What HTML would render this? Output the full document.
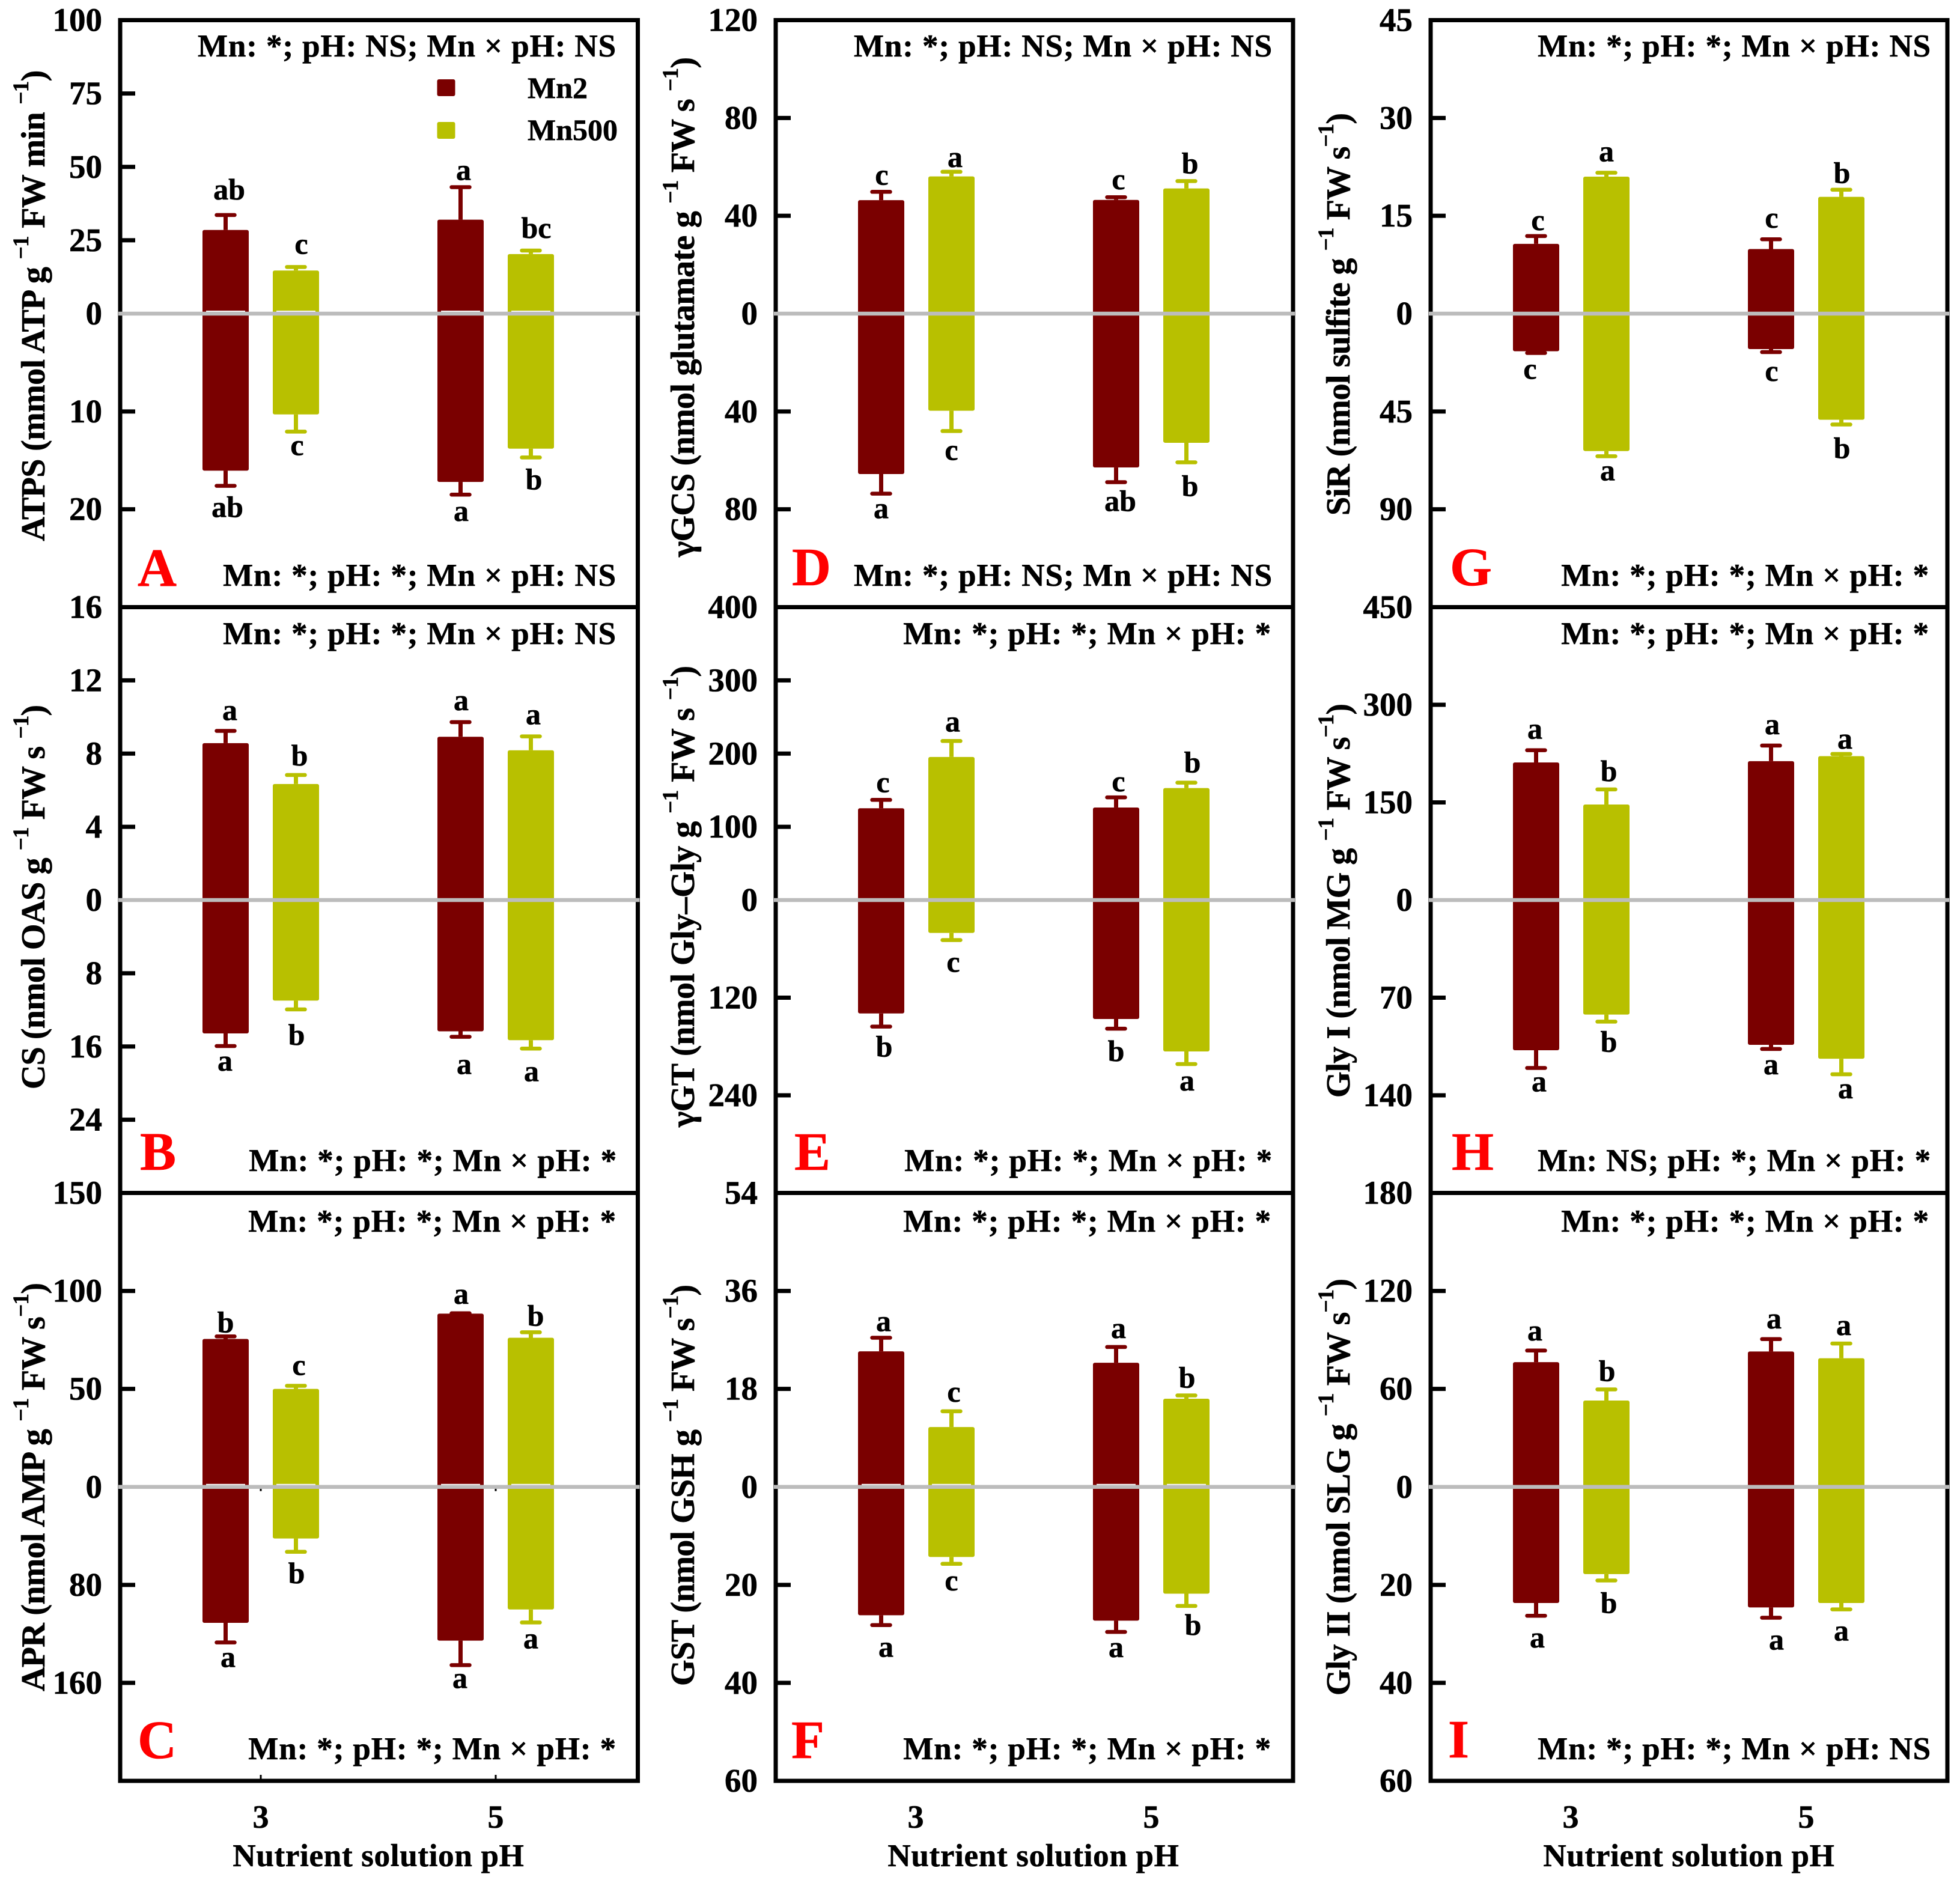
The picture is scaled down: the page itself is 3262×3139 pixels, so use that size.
<!DOCTYPE html>
<html lang="en">
<head>
<meta charset="utf-8">
<title>Enzyme activities by Mn and pH</title>
<style>
html,body{margin:0;padding:0;background:#fff;}
svg{display:block;}
text{font-family:"Liberation Serif",serif;font-weight:bold;fill:#000;stroke:#000;stroke-width:0.6px;}
.ann{font-size:53px;letter-spacing:0.9px;text-anchor:end;}
.tick{font-size:55px;text-anchor:end;}
.sig{font-size:50px;text-anchor:middle;}
.ytitle{font-size:56px;}
.sup{font-size:37px;}
.xtitle{font-size:53px;letter-spacing:0.7px;text-anchor:middle;}
.xlab{font-size:54px;text-anchor:middle;}
.leg{font-size:50px;}
.plet{font-size:90px;fill:#ff0000;stroke:#ff0000;}
.frame{fill:none;stroke:#000;stroke-width:7;}
</style>
</head>
<body>
<svg xmlns="http://www.w3.org/2000/svg" width="3262" height="3139" viewBox="0 0 3262 3139">
<rect width="3262" height="3139" fill="#fff"/>
<g id="marks"></g>

<g>
<rect class="frame" x="200" y="33.5" width="861.5" height="977"/>
<rect class="frame" x="200" y="1010.5" width="861.5" height="975"/>
<rect class="frame" x="200" y="1985.5" width="861.5" height="978.5"/>
<rect class="frame" x="1291" y="33.5" width="861" height="977"/>
<rect class="frame" x="1291" y="1010.5" width="861" height="975"/>
<rect class="frame" x="1291" y="1985.5" width="861" height="978.5"/>
<rect class="frame" x="2381" y="33.5" width="860" height="977"/>
<rect class="frame" x="2381" y="1010.5" width="860" height="975"/>
<rect class="frame" x="2381" y="1985.5" width="860" height="978.5"/>
</g>
<g id="overlay"></g>

<g>
<text class="ytitle" transform="translate(74,900.7) rotate(-90)" textLength="784" lengthAdjust="spacing">ATPS (mmol ATP g <tspan class="sup" dy="-27">−1</tspan><tspan dy="27"> FW min </tspan><tspan class="sup" dy="-27">−1</tspan><tspan dy="27">)</tspan></text>
<text class="ytitle" transform="translate(74,1813) rotate(-90)" textLength="640" lengthAdjust="spacing">CS (nmol OAS g <tspan class="sup" dy="-27">−1</tspan><tspan dy="27"> FW s </tspan><tspan class="sup" dy="-27">−1</tspan><tspan dy="27">)</tspan></text>
<text class="ytitle" transform="translate(74,2815) rotate(-90)" textLength="680" lengthAdjust="spacing">APR (nmol AMP g <tspan class="sup" dy="-27">−1</tspan><tspan dy="27"> FW s</tspan><tspan class="sup" dy="-27">−1</tspan><tspan dy="27">)</tspan></text>
<text class="ytitle" transform="translate(1155,927) rotate(-90)" textLength="832" lengthAdjust="spacing">γGCS (nmol glutamate g <tspan class="sup" dy="-27">−1</tspan><tspan dy="27"> FW s </tspan><tspan class="sup" dy="-27">−1</tspan><tspan dy="27">)</tspan></text>
<text class="ytitle" transform="translate(1155,1876) rotate(-90)" textLength="768" lengthAdjust="spacing">γGT (nmol Gly–Gly g <tspan class="sup" dy="-27">−1</tspan><tspan dy="27"> FW s </tspan><tspan class="sup" dy="-27">−1</tspan><tspan dy="27">)</tspan></text>
<text class="ytitle" transform="translate(1155,2806) rotate(-90)" textLength="668" lengthAdjust="spacing">GST (nmol GSH g <tspan class="sup" dy="-27">−1</tspan><tspan dy="27"> FW s</tspan><tspan class="sup" dy="-27">−1</tspan><tspan dy="27">)</tspan></text>
<text class="ytitle" transform="translate(2246,858) rotate(-90)" textLength="670" lengthAdjust="spacing">SiR (nmol sulfite g <tspan class="sup" dy="-27">−1</tspan><tspan dy="27"> FW s</tspan><tspan class="sup" dy="-27">−1</tspan><tspan dy="27">)</tspan></text>
<text class="ytitle" transform="translate(2246,1827) rotate(-90)" textLength="656" lengthAdjust="spacing">Gly I (nmol MG g <tspan class="sup" dy="-27">−1</tspan><tspan dy="27"> FW s</tspan><tspan class="sup" dy="-27">−1</tspan><tspan dy="27">)</tspan></text>
<text class="ytitle" transform="translate(2246,2822) rotate(-90)" textLength="694" lengthAdjust="spacing">Gly II (nmol SLG g <tspan class="sup" dy="-27">−1</tspan><tspan dy="27"> FW s</tspan><tspan class="sup" dy="-27">−1</tspan><tspan dy="27">)</tspan></text>
</g>

<g>
<text class="ann" x="1026" y="94">Mn: *; pH: NS; Mn × pH: NS</text>
<text class="ann" x="1026" y="975">Mn: *; pH: *; Mn × pH: NS</text>
<text class="ann" x="1026" y="1072">Mn: *; pH: *; Mn × pH: NS</text>
<text class="ann" x="1027" y="1949">Mn: *; pH: *; Mn × pH: *</text>
<text class="ann" x="1026" y="2050">Mn: *; pH: *; Mn × pH: *</text>
<text class="ann" x="1026" y="2928">Mn: *; pH: *; Mn × pH: *</text>
<text class="ann" x="2118" y="94">Mn: *; pH: NS; Mn × pH: NS</text>
<text class="ann" x="2118" y="975">Mn: *; pH: NS; Mn × pH: NS</text>
<text class="ann" x="2116" y="1072">Mn: *; pH: *; Mn × pH: *</text>
<text class="ann" x="2118" y="1949">Mn: *; pH: *; Mn × pH: *</text>
<text class="ann" x="2116" y="2050">Mn: *; pH: *; Mn × pH: *</text>
<text class="ann" x="2116" y="2928">Mn: *; pH: *; Mn × pH: *</text>
<text class="ann" x="3214" y="94">Mn: *; pH: *; Mn × pH: NS</text>
<text class="ann" x="3211" y="975">Mn: *; pH: *; Mn × pH: *</text>
<text class="ann" x="3211" y="1072">Mn: *; pH: *; Mn × pH: *</text>
<text class="ann" x="3214" y="1949">Mn: NS; pH: *; Mn × pH: *</text>
<text class="ann" x="3211" y="2050">Mn: *; pH: *; Mn × pH: *</text>
<text class="ann" x="3214" y="2928">Mn: *; pH: *; Mn × pH: NS</text>
</g>

<g>
<text class="plet" x="229" y="975">A</text>
<text class="plet" x="233" y="1947">B</text>
<text class="plet" x="229" y="2926">C</text>
<text class="plet" x="1318" y="974">D</text>
<text class="plet" x="1322" y="1947">E</text>
<text class="plet" x="1317" y="2926">F</text>
<text class="plet" x="2413" y="974">G</text>
<text class="plet" x="2416" y="1947">H</text>
<text class="plet" x="2410" y="2925">I</text>
</g>

<g>
<rect x="727.5" y="132" width="30" height="28" rx="3" fill="#7a0000"/>
<text class="leg" x="878" y="163">Mn2</text>
<rect x="727.5" y="203" width="30" height="28" rx="3" fill="#b8c000"/>
<text class="leg" x="878" y="233">Mn500</text>
</g>

<g>
<text class="xlab" x="434" y="3042">3</text>
<text class="xlab" x="825" y="3042">5</text>
<text class="xlab" x="1524" y="3042">3</text>
<text class="xlab" x="1916" y="3042">5</text>
<text class="xlab" x="2614" y="3042">3</text>
<text class="xlab" x="3006" y="3042">5</text>
<text class="xtitle" x="630" y="3106">Nutrient solution pH</text>
<text class="xtitle" x="1720" y="3106">Nutrient solution pH</text>
<text class="xtitle" x="2811" y="3106">Nutrient solution pH</text>
</g>
</svg>

<script>
// Bar order in every series: pH3-Mn2, pH3-Mn500, pH5-Mn2, pH5-Mn500
const categories = [3, 5];
const treatments = ['Mn2', 'Mn500'];

// A: ATPS
const atpsUpTicks = [25, 50, 75, 100];
const atpsLowTicks = [10, 20];
const atpsUp = [28.5, 14.7, 32, 20.3];
const atpsUpErr = [33.6, 15.9, 43.1, 21.5];
const atpsLow = [16.05, 10.3, 17.2, 13.8];
const atpsLowErr = [17.6, 12.06, 18.5, 14.7];
const atpsUpSig = ['ab', 'c', 'a', 'bc'];
const atpsLowSig = ['ab', 'c', 'a', 'b'];

// B: CS
const csUpTicks = [4, 8, 12, 16];
const csLowTicks = [8, 16, 24];
const csUp = [8.57, 6.34, 8.92, 8.18];
const csUpErr = [9.24, 6.83, 9.72, 8.94];
const csLow = [14.57, 10.99, 14.34, 15.31];
const csLowErr = [15.95, 11.95, 14.94, 16.23];
const csUpSig = ['a', 'b', 'a', 'a'];
const csLowSig = ['a', 'b', 'a', 'a'];

// C: APR
const aprUpTicks = [50, 100, 150];
const aprLowTicks = [80, 160];
const aprUp = [75.5, 50, 88.4, 76.1];
const aprUpErr = [76.8, 51.6, 88.6, 78.9];
const aprLow = [111, 42.1, 125.5, 100.1];
const aprLowErr = [127, 53, 145.5, 110.7];
const aprUpSig = ['b', 'c', 'a', 'b'];
const aprLowSig = ['a', 'b', 'a', 'a'];

// D: gamma-GCS
const gcsUpTicks = [40, 80, 120];
const gcsLowTicks = [40, 80];
const gcsUp = [46.4, 56.1, 46.5, 51.2];
const gcsUpErr = [49.8, 58, 47.6, 54.2];
const gcsLow = [65.6, 39.7, 62.9, 52.8];
const gcsLowErr = [73.6, 48, 68.9, 60.8];
const gcsUpSig = ['c', 'a', 'c', 'b'];
const gcsLowSig = ['a', 'c', 'ab', 'b'];

// E: gamma-GT
const gtUpTicks = [100, 200, 300, 400];
const gtLowTicks = [120, 240];
const gtUp = [125.3, 195.4, 126.4, 152.9];
const gtUpErr = [136.8, 217.2, 140.2, 160.3];
const gtLow = [139.4, 40.4, 146.2, 186.1];
const gtLowErr = [155.5, 49.2, 158.1, 201.6];
const gtUpSig = ['c', 'a', 'c', 'b'];
const gtLowSig = ['b', 'c', 'b', 'a'];

// F: GST
const gstUpTicks = [18, 36, 54];
const gstLowTicks = [20, 40, 60];
const gstUp = [24.9, 11, 22.8, 16.2];
const gstUpErr = [27.4, 13.9, 25.7, 16.8];
const gstLow = [26.2, 14.3, 27.3, 21.8];
const gstLowErr = [28.2, 15.7, 29.6, 24.3];
const gstUpSig = ['a', 'c', 'a', 'b'];
const gstLowSig = ['a', 'c', 'a', 'b'];

// G: SiR
const sirUpTicks = [15, 30, 45];
const sirLowTicks = [45, 90];
const sirUp = [10.7, 21, 9.9, 17.9];
const sirUpErr = [11.9, 21.6, 11.4, 19];
const sirLow = [17.3, 63.2, 16.3, 48.8];
const sirLowErr = [18.1, 65.6, 17.7, 51];
const sirUpSig = ['c', 'a', 'c', 'b'];
const sirLowSig = ['c', 'a', 'c', 'b'];

// H: Gly I
const glyIUpTicks = [150, 300, 450];
const glyILowTicks = [70, 140];
const glyIUp = [211.4, 146.8, 213.4, 221.1];
const glyIUpErr = [230.2, 170, 237.3, 224.4];
const glyILow = [107.7, 82.1, 103.8, 113.8];
const glyILowErr = [120.4, 87.2, 106.8, 124.9];
const glyIUpSig = ['a', 'b', 'a', 'a'];
const glyILowSig = ['a', 'b', 'a', 'a'];

// I: Gly II
const glyIIUpTicks = [60, 120, 180];
const glyIILowTicks = [20, 40, 60];
const glyIIUp = [76.4, 52.9, 82.9, 78.8];
const glyIIUpErr = [83.5, 59.7, 90.5, 87.8];
const glyIILow = [23.7, 17.8, 24.6, 23.7];
const glyIILowErr = [26.3, 19.1, 26.7, 25];
const glyIIUpSig = ['a', 'b', 'a', 'a'];
const glyIILowSig = ['a', 'b', 'a', 'a'];

const panels = [
  {id:'a',left:200,top:33.5,bottom:1010.5,upMax:100,lowMax:30,upT:atpsUpTicks,lowT:atpsLowTicks,up:atpsUp,upE:atpsUpErr,low:atpsLow,lowE:atpsLowErr,upS:atpsUpSig,lowS:atpsLowSig,
   gapU:[26,22,12,21],dxU:[6,9,5,9],gapL:[52,39,44,53],dxL:[3,2,1,5],notch:true},
  {id:'b',left:200,top:1010.5,bottom:1985.5,upMax:16,lowMax:32,upT:csUpTicks,lowT:csLowTicks,up:csUp,upE:csUpErr,low:csLow,lowE:csLowErr,upS:csUpSig,lowS:csLowSig,
   gapU:[18,16,20,20],dxU:[7,6,1,4],gapL:[41,59,62,54],dxL:[-1,1,6,1]},
  {id:'c',left:200,top:1985.5,bottom:2964,upMax:150,lowMax:240,upT:aprUpTicks,lowT:aprLowTicks,up:aprUp,upE:aprUpErr,low:aprLow,lowE:aprLowErr,upS:aprUpSig,lowS:aprLowSig,
   gapU:[7,18,16,11],dxU:[0,5,1,8],gapL:[41,52,38,43],dxL:[4,1,-1,0],xMarks:true,notch:true},
  {id:'d',left:1291,top:33.5,bottom:1010.5,upMax:120,lowMax:120,upT:gcsUpTicks,lowT:gcsLowTicks,up:gcsUp,upE:gcsUpErr,low:gcsLow,lowE:gcsLowErr,upS:gcsUpSig,lowS:gcsLowSig,
   gapU:[12,8,13,13],dxU:[1,6,4,6],gapL:[41,48,48,56],dxL:[0,0,7,6]},
  {id:'e',left:1291,top:1010.5,bottom:1985.5,upMax:400,lowMax:360,upT:gtUpTicks,lowT:gtLowTicks,up:gtUp,upE:gtUpErr,low:gtLow,lowE:gtLowErr,upS:gtUpSig,lowS:gtLowSig,
   gapU:[13,16,10,17],dxU:[3,2,4,10],gapL:[50,53,54,44],dxL:[5,3,0,1]},
  {id:'f',left:1291,top:1985.5,bottom:2964,upMax:54,lowMax:60,upT:gstUpTicks,lowT:gstLowTicks,up:gstUp,upE:gstUpErr,low:gstLow,lowE:gstLowErr,upS:gstUpSig,lowS:gstLowSig,
   gapU:[11,16,15,13],dxU:[4,4,4,1],gapL:[53,44,42,48],dxL:[8,0,0,11],notch:true},
  {id:'g',left:2381,top:33.5,bottom:1010.5,upMax:45,lowMax:135,upT:sirUpTicks,lowT:sirLowTicks,up:sirUp,upE:sirUpErr,low:sirLow,lowE:sirLowErr,upS:sirUpSig,lowS:sirLowSig,
   gapU:[10,19,19,11],dxU:[3,0,1,1],gapL:[43,40,48,56],dxL:[-10,2,1,1]},
  {id:'h',left:2381,top:1010.5,bottom:1985.5,upMax:450,lowMax:210,upT:glyIUpTicks,lowT:glyILowTicks,up:glyIUp,upE:glyIUpErr,low:glyILow,lowE:glyILowErr,upS:glyIUpSig,lowS:glyILowSig,
   gapU:[19,14,19,9],dxU:[-2,4,2,6],gapL:[39,50,42,40],dxL:[5,4,0,7]},
  {id:'i',left:2381,top:1985.5,bottom:2964,upMax:180,lowMax:60,upT:glyIIUpTicks,lowT:glyIILowTicks,up:glyIIUp,upE:glyIIUpErr,low:glyIILow,lowE:glyIILowErr,upS:glyIIUpSig,lowS:glyIILowSig,
   gapU:[17,14,18,14],dxU:[-2,1,5,4],gapL:[53,54,53,52],dxL:[2,4,9,0]}
];

const NS = 'http://www.w3.org/2000/svg';
const marksRoot = document.getElementById('marks');
const overlayRoot = document.getElementById('overlay');
const colors = ['#7a0000', '#b8c000'];
const BAR_W = 77, BAR_OFFSET = 58.5, CAP_HALF = 15;

function mk(parent, tag, attrs) {
  const el = document.createElementNS(NS, tag);
  for (const k in attrs) el.setAttribute(k, attrs[k]);
  parent.appendChild(el);
  return el;
}
function xScale(p, ph) { return p.left + 234 + (ph - categories[0]) / (categories[1] - categories[0]) * 391; }
function zeroY(p) { return (p.top + p.bottom) / 2; }
function yUp(p, v) { return zeroY(p) - v / p.upMax * (zeroY(p) - p.top); }
function yLow(p, v) { return zeroY(p) + v / p.lowMax * (p.bottom - zeroY(p)); }
function barX(p, i) {
  const g = Math.floor(i / 2), t = i % 2;
  return xScale(p, categories[g]) + (t === 0 ? -BAR_OFFSET : BAR_OFFSET);
}

function drawTick(g, p, y, label, showMark, side) {
  if (showMark) {
    const ln = mk(g, 'line', {x1:p.left, x2:p.left + 25, y1:y, y2:y, stroke:'#000', 'stroke-width':7});
    
    
  }
  const t = mk(g, 'text', {x:p.left - 30, y:y + 18, class:'tick'});
  t.textContent = label;
  
  
}

function drawBar(g, p, i, dir) {
  const cx = barX(p, i);
  const color = colors[i % 2];
  const val = dir === 'up' ? p.up[i] : p.low[i];
  const err = dir === 'up' ? p.upE[i] : p.lowE[i];
  const yv = dir === 'up' ? yUp(p, val) : yLow(p, val);
  const ye = dir === 'up' ? yUp(p, err) : yLow(p, err);
  const z = zeroY(p);
  const stem = mk(g, 'line', {x1:cx, x2:cx, y1:yv, y2:ye, stroke:color, 'stroke-width':7});
  
  
  const cap = mk(g, 'line', {x1:cx - CAP_HALF, x2:cx + CAP_HALF, y1:ye, y2:ye, stroke:color, 'stroke-width':6.5, 'stroke-linecap':'round'});
  
  
  const bar = mk(g, 'rect', {x:cx - BAR_W / 2, y:Math.min(yv, z), width:BAR_W, height:Math.abs(yv - z), rx:3, fill:color});
  
  
  if (p.notch && dir === 'up') {
    const notch = mk(overlayRoot, 'rect', {x:cx - BAR_W / 2 + 6, y:z - 5, width:BAR_W - 12, height:2, fill:'#f4f4f4'});
    
    
  }
  const sigText = dir === 'up' ? p.upS[i] : p.lowS[i];
  const dx = dir === 'up' ? p.dxU[i] : p.dxL[i];
  const baseline = dir === 'up' ? ye - p.gapU[i] : ye + p.gapL[i];
  const sig = mk(g, 'text', {x:cx + dx, y:baseline, class:'sig'});
  sig.textContent = sigText;
  
  
}

panels.forEach(function (p) {
  const g = mk(marksRoot, 'g', {});
  
  
  p.upT.forEach(function (v) { drawTick(g, p, yUp(p, v), v, v !== p.upMax, 'up'); });
  p.lowT.forEach(function (v) { drawTick(g, p, yLow(p, v), v, v !== p.lowMax, 'low'); });
  drawTick(g, p, zeroY(p), 0, false, 'zero');
  for (let i = 0; i < p.up.length; i++) {
    drawBar(g, p, i, 'up');
    drawBar(g, p, i, 'low');
  }
  if (p.xMarks) {
    categories.forEach(function (c) {
      const m1 = mk(g, 'line', {x1:xScale(p, c), x2:xScale(p, c), y1:p.bottom, y2:p.bottom - 10, stroke:'#000', 'stroke-width':3});
      
      
      const m2 = mk(g, 'line', {x1:xScale(p, c), x2:xScale(p, c), y1:zeroY(p), y2:zeroY(p) + 7, stroke:'#000', 'stroke-width':3});
      
      
    });
  }
  const right = p.id < 'd' ? 1061.5 : (p.id < 'g' ? 2152 : 3241);
  const zl = mk(overlayRoot, 'line', {x1:p.left - 3, x2:right + 3, y1:zeroY(p), y2:zeroY(p), stroke:'#bcbcbc', 'stroke-width':6.5});
  
  
  overlayRoot.insertBefore(zl, overlayRoot.firstChild);
});
</script>
</body>
</html>
